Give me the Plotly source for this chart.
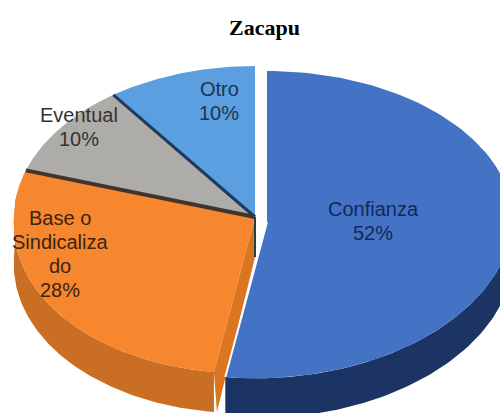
import numpy as np
import plotly.graph_objects as go

title = "Zacapu"
categories = ["Confianza", "Base o Sindicalizado", "Eventual", "Otro"]
values = [52, 28, 10, 10]
top_colors = ["#4472c4", "#f6872f", "#aeaca8", "#5b9fe0"]
wall_colors = ["#1c3464", "#c96e22", "#8a8a8a", "#3f78b0"]
label_lines = [["Confianza", "52%"], ["Base o", "Sindicaliza", "do", "28%"], ["Eventual", "10%"], ["Otro", "10%"]]
label_x = [373, 60, 79, 219]
label_y = [209, 218, 115, 89]
label_colors = ["#14285a", "#3b2412", "#333333", "#1d3552"]

W, H = 500, 413
CX, CY, RX, RY = 255, 217, 241, 151      # main ellipse
BX, BY, BRX, BRY = 267, 222, 246, 151    # exploded blue slice
DEPTH = 40
SHEAR = 0.07
LOWER = 1.035


def proj(t, cx, cy, rx, ry):
    x = rx * np.sin(t)
    y = -ry * np.cos(t)
    y = np.where(y > 0, y * LOWER, y)
    x = x - SHEAR * np.clip(y, 0, None)
    return cx + x, cy + y


def arc(a0, a1, cx, cy, rx, ry, n=120):
    return proj(np.linspace(a0, a1, n), cx, cy, rx, ry)


total = sum(values)
fracs = [v / total * 2 * np.pi for v in values]
a_conf = fracs[0]
edges = [a_conf]
for f in fracs[1:]:
    edges.append(edges[-1] + f)

fig = go.Figure()


def poly(x, y, color, name, hover=True):
    fig.add_trace(go.Scatter(x=list(x), y=list(y), mode="lines", fill="toself", fillcolor=color,
                             line=dict(width=0, color=color), name=name, showlegend=False,
                             hoverinfo="name" if hover else "skip"))


a0, a1 = edges[0], edges[1]
xa, ya = arc(a0, a1 - np.deg2rad(8), CX, CY, RX, RY)
poly(np.r_[xa, xa[::-1]], np.r_[ya, ya[::-1] + DEPTH], wall_colors[1], categories[1])
ox, oy = proj(a0, CX, CY, RX, RY)
poly([CX, float(ox), float(ox) + 3, CX], [CY, float(oy), float(oy) + DEPTH, CY + DEPTH], "#d9761f", categories[1], False)
xb, yb = arc(np.deg2rad(62), a0, BX, BY, BRX, BRY)
poly(np.r_[xb, xb[::-1]], np.r_[yb, yb[::-1] + DEPTH], wall_colors[0], categories[0])

for i, (s, e) in enumerate([(0, a_conf), (edges[0], edges[1]), (edges[1], edges[2]), (edges[2], edges[3])]):
    if i == 0:
        x, y = arc(s, e, BX, BY, BRX, BRY)
        x, y = np.r_[BX, x, BX], np.r_[BY, y, BY]
    else:
        x, y = arc(s, e, CX, CY, RX, RY)
        x, y = np.r_[CX, x, CX], np.r_[CY, y, CY]
    poly(x, y, top_colors[i], categories[i])

bx, by = proj(a_conf, BX, BY, BRX, BRY)
fig.add_trace(go.Scatter(x=[BX, float(bx)], y=[BY, float(by)], mode="lines", line=dict(color="#ffffff", width=2),
                         showlegend=False, hoverinfo="skip"))

for ang, col, w in [(edges[2], "#1f3a5c", 3), (edges[1], "#40352e", 4)]:
    dx, dy = proj(ang, CX, CY, RX, RY)
    fig.add_trace(go.Scatter(x=[CX, float(dx)], y=[CY, float(dy)], mode="lines", line=dict(color=col, width=w),
                             showlegend=False, hoverinfo="skip"))
fig.add_trace(go.Scatter(x=[CX, CX], y=[CY, CY + DEPTH], mode="lines", line=dict(color="#24404a", width=2),
                         showlegend=False, hoverinfo="skip"))

annotations = [dict(x=264, y=27, text=f"<b>{title}</b>", showarrow=False, xref="x", yref="y",
                    font=dict(family="Liberation Serif", size=22, color="#000000"))]
for lines, lx, ly, col in zip(label_lines, label_x, label_y, label_colors):
    for j, line in enumerate(lines):
        annotations.append(dict(x=lx, y=ly + j * 24, text=line, showarrow=False, xref="x", yref="y",
                                font=dict(family="Liberation Sans", size=20, color=col)))

fig.update_layout(width=W, height=H, margin=dict(l=0, r=0, t=0, b=0), paper_bgcolor="#ffffff",
                  plot_bgcolor="#ffffff", showlegend=False, annotations=annotations,
                  xaxis=dict(range=[0, W], visible=False, fixedrange=True),
                  yaxis=dict(range=[H, 0], visible=False, fixedrange=True))
fig.write_html("out.html", config={"displayModeBar": False},
               post_script='document.body.style.margin="0";document.documentElement.style.overflow="hidden";')
